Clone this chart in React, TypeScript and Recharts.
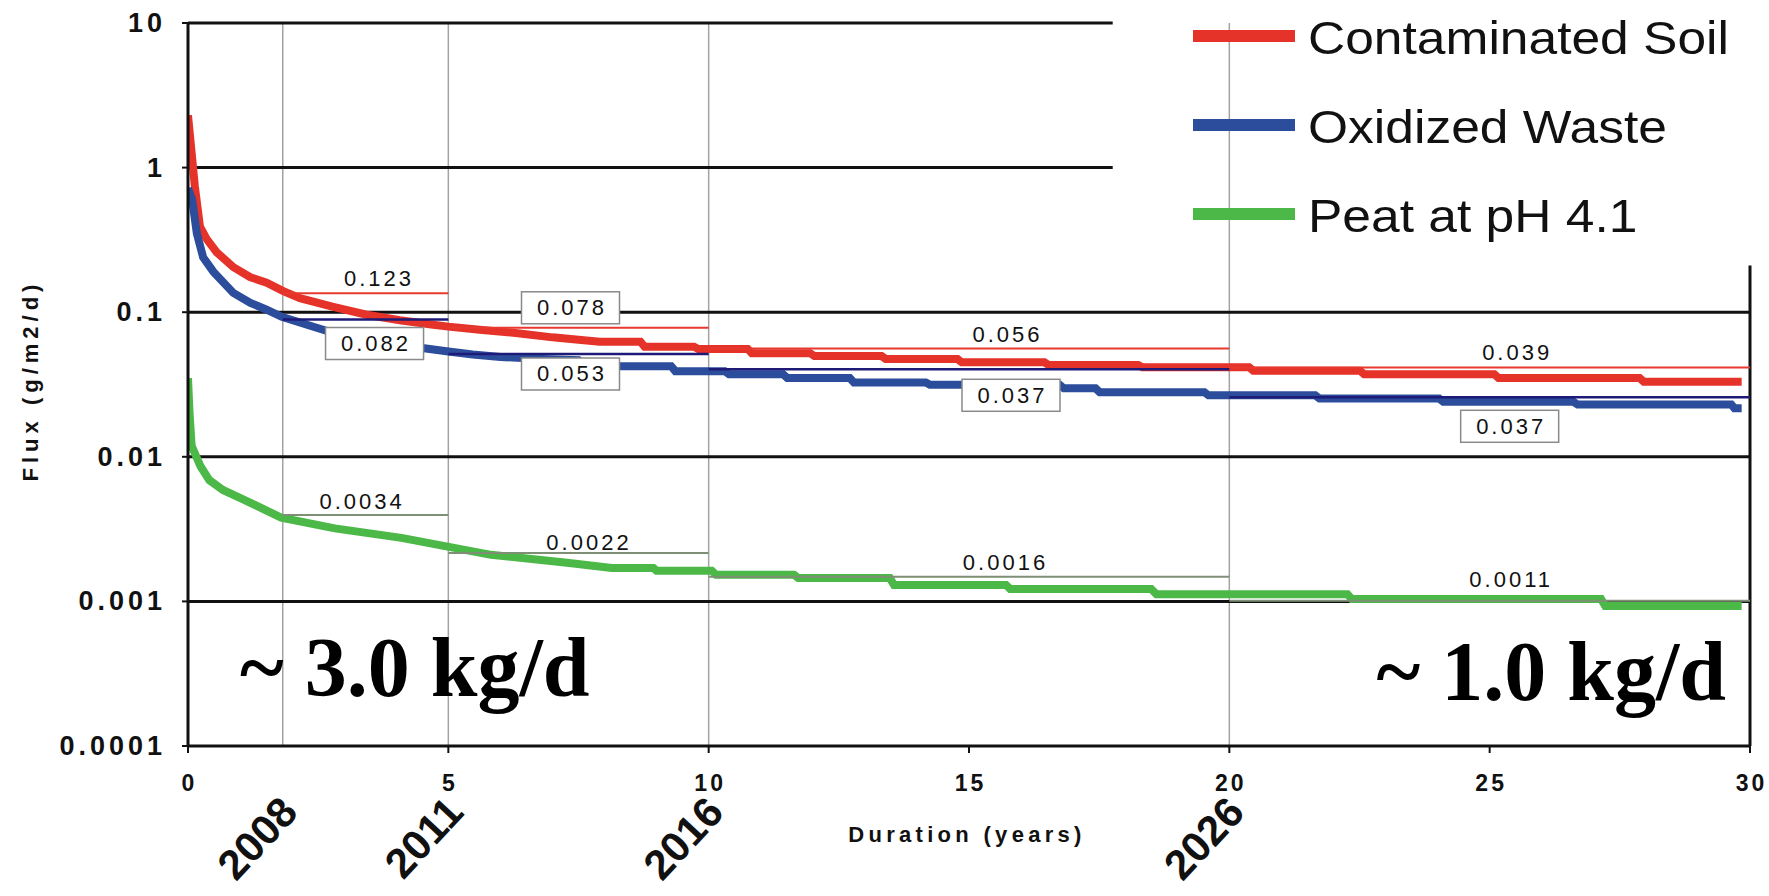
import React from 'react';
import { LineChart, Line, XAxis, YAxis, ReferenceLine, ReferenceDot, Legend } from 'recharts';

// flux curves: [years, g/m2/d]
const SOIL = [
  [0, 2.3], [0.05, 1.5], [0.13, 0.75], [0.23, 0.39], [0.36, 0.32], [0.55, 0.26], [0.87, 0.205],
  [1.19, 0.175], [1.51, 0.16], [1.83, 0.14], [2.15, 0.125], [2.79, 0.109], [3.43, 0.096],
  [4.07, 0.088], [4.71, 0.082], [5.0, 0.0795], [5.6, 0.0755], [6.25, 0.072], [7.0, 0.067],
  [7.5, 0.0645], [7.91, 0.0625], [8.69, 0.0625], [8.77, 0.0577], [9.72, 0.0577], [9.8, 0.0557],
  [10.75, 0.0557], [10.83, 0.052], [11.95, 0.052], [12.03, 0.0498], [13.32, 0.0498], [13.4, 0.0474],
  [14.78, 0.0474], [14.86, 0.045], [16.45, 0.045], [16.53, 0.0431], [18.25, 0.0431], [18.33, 0.0416],
  [20.38, 0.0416], [20.46, 0.0394], [22.51, 0.0394], [22.59, 0.0372], [25.09, 0.0372], [25.17, 0.0351],
  [27.88, 0.0351], [27.96, 0.0331], [29.84, 0.0331],
];

const WASTE = [
  [0, 0.72], [0.08, 0.6], [0.17, 0.35], [0.29, 0.24], [0.49, 0.19], [0.87, 0.136], [1.2, 0.116],
  [1.51, 0.104], [1.8, 0.093], [2.47, 0.078], [2.79, 0.072], [4.5, 0.0565], [5.0, 0.0535],
  [5.47, 0.051], [6.0, 0.049], [6.8, 0.0475], [7.5, 0.0465], [7.6, 0.0423], [9.28, 0.0423],
  [9.36, 0.0391], [10.31, 0.0391], [10.39, 0.0372], [11.43, 0.0372], [11.51, 0.0351], [12.71, 0.0351],
  [12.79, 0.0327], [14.17, 0.0327], [14.25, 0.0315], [16.74, 0.0315], [16.82, 0.0298], [17.43, 0.0298],
  [17.51, 0.028], [19.52, 0.028], [19.6, 0.0266], [21.65, 0.0266], [21.73, 0.0253], [24.03, 0.0253],
  [24.11, 0.024], [26.61, 0.024], [26.69, 0.023], [29.64, 0.023], [29.7, 0.0217], [29.84, 0.0217],
];

const PEAT = [
  [0, 0.035], [0.03, 0.02], [0.07, 0.0119], [0.24, 0.0086], [0.41, 0.0069], [0.67, 0.0059],
  [1.1, 0.005], [1.79, 0.0038], [2.82, 0.0032], [4.1, 0.00275], [4.96, 0.0024], [5.82, 0.0021],
  [7.28, 0.00185], [8.14, 0.0017], [8.94, 0.0017], [9.0, 0.00163], [10.06, 0.00163], [10.14, 0.00153],
  [11.64, 0.00153], [11.72, 0.00145], [13.48, 0.00145], [13.56, 0.0013], [15.71, 0.0013],
  [15.79, 0.00122], [18.5, 0.00122], [18.6, 0.00112], [22.27, 0.00112], [22.35, 0.00104],
  [27.14, 0.00104], [27.22, 0.00093], [29.84, 0.00093],
];

// period averages: [from, to, drawn level, printed label]
const SOIL_AVG = [[1.82, 5, 0.135, '0.123'], [5, 10, 0.078, '0.078'], [10, 20, 0.056, '0.056'], [20, 30, 0.0415, '0.039']];
const WASTE_AVG = [[1.82, 5, 0.089, '0.082'], [5, 10, 0.0514, '0.053'], [10, 20, 0.0403, '0.037'], [20, 30, 0.0258, '0.037']];
const PEAT_AVG = [[1.82, 5, 0.00396, '0.0034'], [5, 10, 0.00216, '0.0022'], [10, 20, 0.00148, '0.0016'], [20, 30, 0.00101, '0.0011']];

const X_TICKS = [0, 5, 10, 15, 20, 25, 30];
const Y_TICKS = [0.0001, 0.001, 0.01, 0.1, 1, 10];
const Y_TICK_LABELS = ['0.0001', '0.001', '0.01', '0.1', '1', '10'];
const FULL_ROWS = [0.1, 0.01, 0.001];
const SHORT_ROWS = [10, 1];
const YEAR_X = [1.82, 5, 10, 20];
const YEAR_LABELS = ['2008', '2011', '2016', '2026'];
const NOTES = [[1.0, 0.00022, '~ 3.0 kg/d'], [29.54, 0.000208, '~ 1.0 kg/d']];

// label nudges in px, same order as the avg lists
const SOIL_NUDGE = [[12, -15], [-8, -20], [37, -14], [26, -15]];
const WASTE_NUDGE = [[9, 24], [-8, 20], [42, 26], [20, 29]];
const PEAT_NUDGE = [[-5, -13], [9, -11], [35, -14], [20, -21]];

const SANS = '"Liberation Sans", Arial, sans-serif';
const INK = '#111';

const toPoints = (rows: number[][]) => rows.map(([x, y]) => ({ x, y }));

const avgLabel = (text: string, nudge: number[], boxed: boolean) => (props: any) => {
  const vb = props.viewBox;
  const cx = vb.x + vb.width / 2 + nudge[0];
  const cy = vb.y + nudge[1];
  return (
    <g>
      {boxed && <rect x={cx - 49} y={cy - 16} width={98} height={32} fill="#fff" stroke="#8a8a8a" strokeWidth={1.5} />}
      <text x={cx + 1.5} y={cy} textAnchor="middle" dominantBaseline="central" fontFamily={SANS}
        fontSize={22} letterSpacing={3} fill={INK}>{text}</text>
    </g>
  );
};

const yearLabel = (text: string) => (props: any) => {
  const vb = props.viewBox;
  const ax = vb.x + 17;
  const ay = vb.y + vb.height + 68;
  return (
    <text x={ax} y={ay} transform={`rotate(-47, ${ax}, ${ay})`} textAnchor="end" fontFamily={SANS}
      fontSize={42} fontWeight="bold" fill={INK}>{text}</text>
  );
};

const noteLabel = (text: string, anchor: 'start' | 'end') => (props: any) => {
  const vb = props.viewBox;
  return (
    <text x={vb.x + vb.width / 2} y={vb.y + vb.height / 2} textAnchor={anchor}
      fontFamily='"Liberation Serif", "Times New Roman", serif' fontSize={84} fontWeight="bold" fill="#000">{text}</text>
  );
};

const XTick = ({ x, y, payload }: any) => (
  <text x={x + 1.5} y={y + 36} textAnchor="middle" fontFamily={SANS} fontSize={23} fontWeight="bold"
    letterSpacing={3} fill={INK}>{payload.value}</text>
);

const YTick = ({ x, y, payload }: any) => (
  <text x={x - 14} y={y} textAnchor="end" dominantBaseline="central" fontFamily={SANS} fontSize={27}
    fontWeight="bold" letterSpacing={4} fill={INK}>{Y_TICK_LABELS[Y_TICKS.indexOf(payload.value)]}</text>
);

const yTitle = (props: any) => {
  const vb = props.viewBox;
  const cx = vb.x + 30;
  const cy = vb.y + vb.height / 2 - 4;
  return (
    <text x={cx} y={cy} transform={`rotate(-90, ${cx}, ${cy})`} textAnchor="middle" dominantBaseline="central"
      fontFamily={SANS} fontSize={22} fontWeight={900} letterSpacing={5} fill={INK}>Flux (g/m2/d)</text>
  );
};

const xTitle = (props: any) => {
  const vb = props.viewBox;
  return (
    <text x={vb.x + vb.width / 2 - 2} y={vb.y + 96} textAnchor="middle" fontFamily={SANS} fontSize={22}
      fontWeight="bold" letterSpacing={4.3} fill={INK}>Duration (years)</text>
  );
};

const LegendBox = ({ payload }: any) => (
  <div>
    {(payload || []).map((e: any) => (
      <div key={e.value} style={{ display: 'flex', alignItems: 'center', height: 89 }}>
        <div style={{ width: 102, height: 12, background: e.color }} />
        <span style={{
          marginLeft: 13, fontFamily: SANS, fontSize: 46, lineHeight: 1, color: INK, whiteSpace: 'nowrap',
          display: 'inline-block', transform: 'scaleX(1.12)', transformOrigin: 'left center', marginTop: 4,
        }}>{e.value}</span>
      </div>
    ))}
  </div>
);

const SERIES = [
  { name: 'Contaminated Soil', rows: SOIL, color: '#e5332a', thin: '#e8392f', avg: SOIL_AVG, nudge: SOIL_NUDGE },
  { name: 'Oxidized Waste', rows: WASTE, color: '#2c4c9c', thin: '#1d1a78', avg: WASTE_AVG, nudge: WASTE_NUDGE },
  { name: 'Peat at pH 4.1', rows: PEAT, color: '#4cb848', thin: '#7e8f76', avg: PEAT_AVG, nudge: PEAT_NUDGE },
];

// which of the average labels sit in a white box
const BOXED = [[false, true, false, false], [true, true, true, true], [false, false, false, false]];

export default function App() {
  return (
    <div style={{ position: 'absolute', left: 0, top: 0, background: '#fff' }}>
      <LineChart width={1769} height={896} margin={{ top: 23, right: 19, left: 0, bottom: 0 }}>
        <XAxis type="number" dataKey="x" domain={[0, 30]} ticks={X_TICKS} interval={0} height={150}
          allowDataOverflow axisLine={{ stroke: INK, strokeWidth: 3 }} tickLine={{ stroke: INK, strokeWidth: 2 }}
          tickSize={7} tick={<XTick />} label={xTitle} />
        <YAxis type="number" scale="log" domain={[0.0001, 10]} ticks={Y_TICKS} interval={0} width={188}
          allowDataOverflow axisLine={{ stroke: INK, strokeWidth: 3 }} tickLine={{ stroke: INK, strokeWidth: 2 }}
          tickSize={6} tick={<YTick />} label={yTitle} />

        {YEAR_X.map((x, i) => (
          <ReferenceLine key={`yr${i}`} x={x} stroke="#a3a3a3" strokeWidth={1.5} label={yearLabel(YEAR_LABELS[i])} />
        ))}
        {FULL_ROWS.map((v) => (
          <ReferenceLine key={`r${v}`} segment={[{ x: 0, y: v }, { x: 30, y: v }]} stroke={INK} strokeWidth={3} />
        ))}
        {SHORT_ROWS.map((v) => (
          <ReferenceLine key={`s${v}`} segment={[{ x: 0, y: v }, { x: 17.76, y: v }]} stroke={INK} strokeWidth={3} />
        ))}
        <ReferenceLine segment={[{ x: 30, y: 0.0001 }, { x: 30, y: 0.21 }]} stroke={INK} strokeWidth={3} />

        {SERIES.map((s) => (
          <Line key={s.name} data={toPoints(s.rows)} dataKey="y" name={s.name} type="linear" stroke={s.color}
            strokeWidth={8} dot={false} activeDot={false} isAnimationActive={false} />
        ))}

        {SERIES.map((s, si) =>
          s.avg.map((a: any, ai: number) => (
            <ReferenceLine key={`${s.name}-${ai}`} segment={[{ x: a[0], y: a[2] }, { x: a[1], y: a[2] }]}
              stroke={s.thin} strokeWidth={si === 1 ? 2.5 : 2}
              label={avgLabel(a[3], s.nudge[ai], BOXED[si][ai])} />
          )),
        )}

        {NOTES.map((n: any, i) => (
          <ReferenceDot key={`n${i}`} x={n[0]} y={n[1]} r={1} fill="none" stroke="none"
            label={noteLabel(n[2], i === 0 ? 'start' : 'end')} />
        ))}

        <Legend layout="vertical" align="center" verticalAlign="middle" content={<LegendBox />}
          wrapperStyle={{ left: 1193, top: -9, width: 570 }} />
      </LineChart>
    </div>
  );
}
